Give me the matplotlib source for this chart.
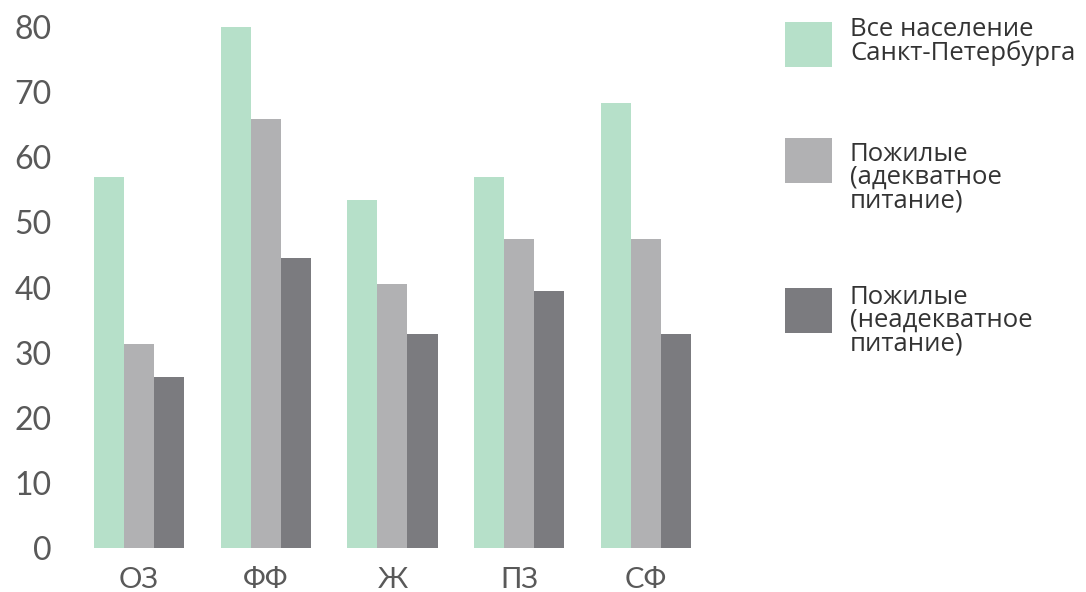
import numpy as np
import matplotlib
matplotlib.use("Agg")
import matplotlib.pyplot as plt
from matplotlib.patches import Rectangle

categories = ["ОЗ", "ФФ", "Ж", "ПЗ", "СФ"]
all_spb = [57.0, 80.0, 53.5, 57.0, 68.4]
elderly_adequate = [31.4, 65.9, 40.6, 47.4, 47.4]
elderly_inadequate = [26.2, 44.6, 32.8, 39.5, 32.8]
series_labels = ["Все население\nСанкт-Петербурга",
                 "Пожилые\n(адекватное\nпитание)",
                 "Пожилые\n(неадекватное\nпитание)"]
colors = ["#b6e0c9", "#b1b1b3", "#7b7b7f"]
yticks = [0, 10, 20, 30, 40, 50, 60, 70, 80]

W, H = 1086, 592
fig = plt.figure(figsize=(W / 100, H / 100), dpi=100)
ax = fig.add_axes([70 / W, 44 / H, 650 / W, 521 / H])

x = np.arange(len(categories))
w = 0.237
for i, vals in enumerate([all_spb, elderly_adequate, elderly_inadequate]):
    ax.bar(x + (i - 1) * w, vals, width=w, color=colors[i], linewidth=0, clip_on=False)

ax.set_xlim(-0.544, 4.584)
ax.set_ylim(0, 80)
ax.set_yticks(yticks)
ax.set_xticks(x)
ax.set_xticklabels(categories)
for s in ax.spines.values():
    s.set_visible(False)
ax.tick_params(axis="y", length=0, pad=13, labelsize=23, labelcolor="#595959")
ax.tick_params(axis="x", length=0, pad=14, labelsize=21, labelcolor="#595959")
for lab in ax.get_xticklabels() + ax.get_yticklabels():
    lab.set_family(["Lato", "DejaVu Sans"])

# legend drawn by hand so the squares line up with the first text line
patch_tops = [22, 138, 288]
text_tops = [17, 142, 285]
for i in range(3):
    fig.add_artist(Rectangle((785 / W, 1 - (patch_tops[i] + 45) / H), 47 / W, 45 / H,
                             transform=fig.transFigure, color=colors[i], linewidth=0))
    fig.text(850 / W, 1 - text_tops[i] / H, series_labels[i], ha="left", va="top",
             fontsize=18.5, linespacing=0.9, color="#333333",
             family=["Open Sans", "DejaVu Sans"])

fig.savefig("out.png", dpi=100, facecolor="white")
